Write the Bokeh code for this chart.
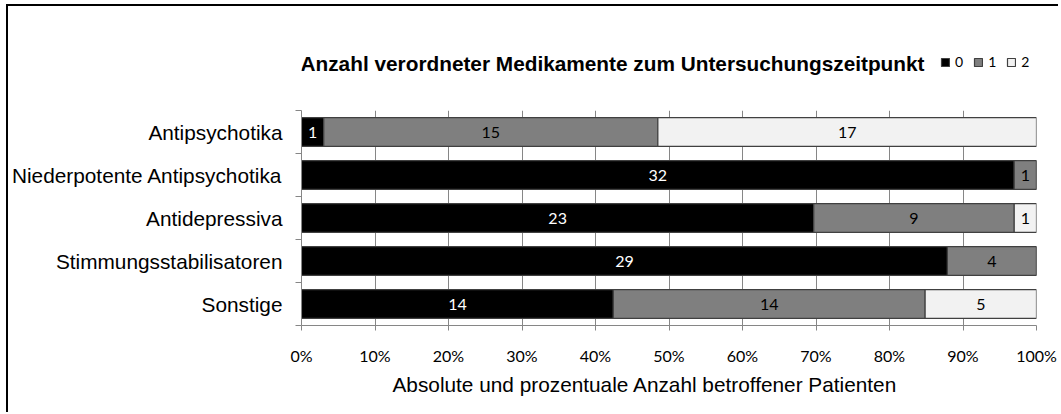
import numpy as np
from bokeh.plotting import figure
from bokeh.layouts import column
from bokeh.models import (ColumnDataSource, Range1d, FixedTicker, NumeralTickFormatter,
                          Legend, LegendItem, Title, Label)
from bokeh.core.properties import value
from bokeh.embed import file_html
from bokeh.resources import INLINE

# ---- data ----
categories = ["Antipsychotika", "Niederpotente Antipsychotika", "Antidepressiva",
              "Stimmungsstabilisatoren", "Sonstige"]
count_0 = [1, 32, 23, 29, 14]
count_1 = [15, 1, 9, 4, 14]
count_2 = [17, 0, 1, 0, 5]
series_labels = ["0", "1", "2"]
x_ticks = [i / 10 for i in range(11)]
title_text = "Anzahl verordneter Medikamente zum Untersuchungszeitpunkt"
x_title = "Absolute und prozentuale Anzahl betroffener Patienten"

# ---- styles ----
series_colors = ["#000000", "#7f7f7f", "#f2f2f2"]
label_colors = ["#ffffff", "#000000", "#000000"]
grid_color = "#868686"
outline_color = "#404040"
W = 1050
TOP_H = 79

counts = np.array([count_0, count_1, count_2], dtype=float)
totals = counts.sum(axis=0)
frac = counts / totals
right = np.cumsum(frac, axis=0)
left = right - frac
n = len(categories)
y_pos = [n - i - 0.5 for i in range(n)]

# ---- header strip: title + legend (frame aligned with the chart's frame) ----
pt = figure(width=W, height=TOP_H, x_range=Range1d(0, 1), y_range=Range1d(0, TOP_H),
            output_backend="svg", toolbar_location=None,
            x_axis_type=None, y_axis_type=None,
            min_border_left=293, min_border_right=22, min_border_top=0, min_border_bottom=0)
pt.outline_line_color = None
pt.xgrid.grid_line_color = None
pt.ygrid.grid_line_color = None
pt.add_layout(Label(x=0, y=22, x_offset=-1, text=title_text, text_align="left",
                    text_baseline="middle",
                    text_font="Liberation Sans", text_font_size="20.8px",
                    text_font_style="bold", text_color="#000000"))
# legend-only renderers (their single bar lies outside the visible range)
key_renderers = []
for k in range(3):
    ksrc = ColumnDataSource(dict(y=[-100.0], left=[0.0], right=[0.0]))
    key_renderers.append(pt.hbar(y="y", left="left", right="right", height=1, source=ksrc,
                                 fill_color=series_colors[k], line_color=outline_color,
                                 line_width=1.2))
legend = Legend(items=[LegendItem(label=series_labels[k], renderers=[key_renderers[k]])
                       for k in range(3)],
                orientation="horizontal", location=(639, 15),
                glyph_width=10, glyph_height=10, label_standoff=5, label_width=7,
                label_height=12, spacing=10, padding=0, margin=0,
                border_line_color=None, background_fill_alpha=0,
                label_text_font="Lato", label_text_font_size="14px",
                label_text_color="#000000")
pt.add_layout(legend, "center")

# ---- main chart ----
p = figure(width=W, height=327, x_range=Range1d(0, 1), y_range=Range1d(0, n),
           output_backend="svg", toolbar_location=None,
           min_border_left=293, min_border_right=22, min_border_top=25, min_border_bottom=87)
p.outline_line_color = None
p.background_fill_color = "#ffffff"
p.border_fill_color = "#ffffff"

lx, ly, lt, lc = [], [], [], []
for k in range(3):
    src = ColumnDataSource(dict(y=y_pos, left=left[k], right=right[k]))
    p.hbar(y="y", left="left", right="right", height=0.67, source=src,
           fill_color=series_colors[k], line_color=outline_color, line_width=1.2)
    for i in range(n):
        if counts[k, i] > 0:
            lx.append((left[k, i] + right[k, i]) / 2)
            ly.append(y_pos[i])
            lt.append(str(int(counts[k, i])))
            lc.append(label_colors[k])

lsrc = ColumnDataSource(dict(x=lx, y=ly, text=lt, color=lc))
p.text(x="x", y="y", text="text", text_color="color", source=lsrc,
       text_align="center", text_baseline="middle",
       text_font=value("Lato"), text_font_size="16px")

# x axis
p.xaxis.ticker = FixedTicker(ticks=x_ticks)
p.xaxis.formatter = NumeralTickFormatter(format="0%")
p.xaxis.axis_line_color = grid_color
p.xaxis.major_tick_line_color = grid_color
p.xaxis.major_tick_out = 5
p.xaxis.major_tick_in = 0
p.xaxis.minor_tick_line_color = None
p.xaxis.major_label_text_font = "Lato"
p.xaxis.major_label_text_font_size = "16px"
p.xaxis.major_label_text_color = "#000000"
p.xaxis.major_label_standoff = 15

# y axis
p.yaxis.ticker = FixedTicker(ticks=y_pos, minor_ticks=[float(i) for i in range(n + 1)])
p.yaxis.major_label_overrides = {y_pos[i]: categories[i] for i in range(n)}
p.yaxis.axis_line_color = grid_color
p.yaxis.major_tick_line_color = None
p.yaxis.major_tick_out = 6
p.yaxis.major_tick_in = 0
p.yaxis.minor_tick_line_color = grid_color
p.yaxis.minor_tick_out = 6
p.yaxis.minor_tick_in = 0
p.yaxis.major_label_text_font = "Liberation Sans"
p.yaxis.major_label_text_font_size = "20.8px"
p.yaxis.major_label_text_color = "#000000"
p.yaxis.major_label_standoff = 13

p.xgrid.grid_line_color = grid_color
p.xgrid.ticker = FixedTicker(ticks=x_ticks)
p.ygrid.grid_line_color = None

# x axis title
p.add_layout(Title(text=x_title, align="left", offset=91, standoff=6,
                   text_font="Liberation Sans", text_font_size="20.8px",
                   text_font_style="normal", text_color="#000000"), "below")

layout = column(pt, p, spacing=0)
layout.styles = {"margin-left": "6px", "margin-top": "4px",
                 "border-top": "2px solid #000000", "border-left": "2px solid #000000"}

open("out.html", "w").write(file_html(layout, INLINE))
